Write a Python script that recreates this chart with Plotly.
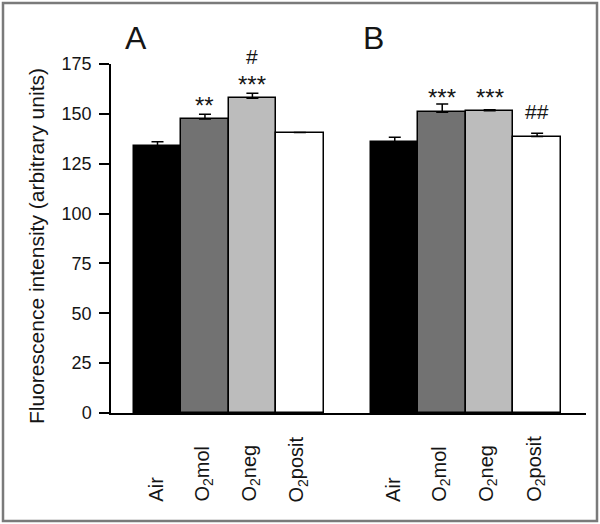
import plotly.graph_objects as go

categories = ["Air", "O<sub>2</sub>mol", "O<sub>2</sub>neg", "O<sub>2</sub>posit"]
panels = ["A", "B"]
panel_a_values = [134.0, 147.4, 157.8, 140.6]
panel_a_err = [2.0, 2.4, 2.5, 0.0]
panel_b_values = [135.9, 150.8, 151.5, 138.6]
panel_b_err = [2.4, 4.2, 0.6, 1.7]
panel_a_stars = ["", "**", "***", ""]
panel_a_hash = ["", "", "#", ""]
panel_b_stars = ["", "***", "***", ""]
panel_b_hash = ["", "", "", "##"]
y_ticks = [0, 25, 50, 75, 100, 125, 150, 175]

bar_colors = ["#000000", "#727272", "#bcbcbc", "#ffffff"]
FONT = "Liberation Sans, Arial, sans-serif"
TXT = "#151515"

# styling positions (not data), in y-axis units
group_offsets = [0, 5]
star_y = {"A": [None, 154, 164.5, None], "B": [None, 158.2, 158.2, None]}
hash_y = {"A": [None, None, 179, None], "B": [None, None, None, 151]}
Y_MAX = 175

W, H = 600, 524
L, R, T, B = 111, 14, 64, 111
pw, ph = W - L - R, H - T - B

def px_x(px):
    return (px - L) / pw

def px_y(py):
    return (H - B - py) / ph

fig = go.Figure()
annotations = []

for pi, (name, vals, errs, stars, hashes) in enumerate([
    ("A", panel_a_values, panel_a_err, panel_a_stars, panel_a_hash),
    ("B", panel_b_values, panel_b_err, panel_b_stars, panel_b_hash),
]):
    xs = [group_offsets[pi] + i for i in range(len(categories))]
    fig.add_trace(go.Bar(
        x=xs, y=vals, width=1.0,
        marker=dict(color=bar_colors, line=dict(color="#000000", width=1.5)),
        error_y=dict(type="data", array=errs, arrayminus=[0] * len(errs),
                     symmetric=False, color="#000000", thickness=1.5, width=6),
        showlegend=False, hoverinfo="x+y",
    ))
    for i, cat in enumerate(categories):
        annotations.append(dict(
            x=xs[i] - 0.05, xref="x", y=px_y(504), yref="paper",
            text=cat, textangle=-90, showarrow=False,
            xanchor="center", yanchor="bottom",
            font=dict(family=FONT, size=20, color=TXT)))
        if stars[i]:
            annotations.append(dict(
                x=xs[i], xref="x", y=star_y[name][i] / Y_MAX, yref="paper",
                text=stars[i], showarrow=False, xanchor="center", yanchor="middle",
                font=dict(family=FONT, size=24, color=TXT)))
        if hashes[i]:
            annotations.append(dict(
                x=xs[i], xref="x", y=hash_y[name][i] / Y_MAX, yref="paper",
                text=hashes[i], showarrow=False, xanchor="center", yanchor="middle",
                font=dict(family=FONT, size=21, color=TXT)))
    annotations.append(dict(
        x=group_offsets[pi] - 0.45, xref="x", y=px_y(38), yref="paper",
        text=name, showarrow=False, xanchor="center", yanchor="middle",
        font=dict(family=FONT, size=32, color=TXT)))

annotations.append(dict(
    x=px_x(36), xref="paper", y=px_y(426), yref="paper",
    text="Fluorescence intensity (arbitrary units)", textangle=-90,
    showarrow=False, xanchor="center", yanchor="bottom",
    font=dict(family=FONT, size=21, color=TXT)))

fig.update_layout(
    width=W, height=H,
    margin=dict(l=L, r=R, t=T, b=B, pad=0),
    paper_bgcolor="#ffffff", plot_bgcolor="#ffffff",
    bargap=0,
    annotations=annotations,
    shapes=[dict(type="rect", xref="paper", yref="paper",
                 x0=px_x(3), x1=px_x(597), y0=px_y(521), y1=px_y(3),
                 line=dict(color="#7a7a7a", width=2.5))],
    xaxis=dict(range=[-0.98, 9.03], showticklabels=False, ticks="",
               showgrid=False, zeroline=False, showline=True,
               linecolor="#000000", linewidth=1.5, fixedrange=True),
    yaxis=dict(range=[0, Y_MAX], tickvals=y_ticks, ticks="outside", ticklen=10,
               tickwidth=1.5, tickcolor="#000000", showgrid=False, zeroline=False,
               showline=True, linecolor="#000000", linewidth=1.5,
               ticklabelstandoff=4,
               tickfont=dict(family=FONT, size=18, color=TXT), fixedrange=True),
)

fig.write_html("out.html", config={"displayModeBar": False},
               post_script="document.body.style.margin='0';document.body.style.overflow='hidden';")
